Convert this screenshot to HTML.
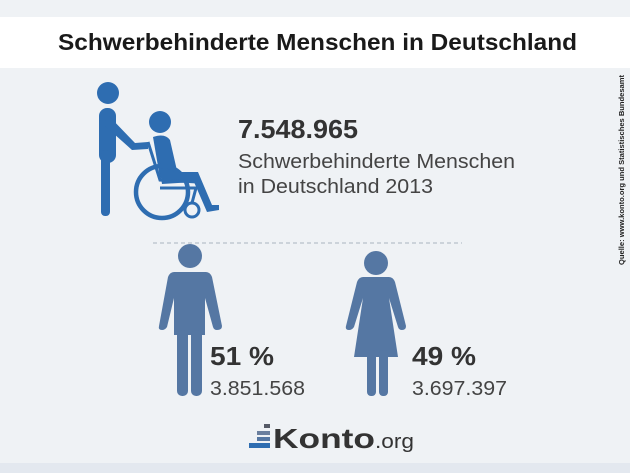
<!DOCTYPE html>
<html><head><meta charset="utf-8"><style>
html,body{margin:0;padding:0;background:#eff2f5;}
svg{display:block}
text{font-family:"Liberation Sans",sans-serif}
</style></head><body>
<svg width="630" height="473" viewBox="0 0 630 473" xmlns="http://www.w3.org/2000/svg">
<rect width="630" height="473" fill="#eff2f5"/>
<rect y="17" width="630" height="51" fill="#ffffff"/>
<rect y="463" width="630" height="10" fill="#e3e8ef"/>
<text x="58" y="50" font-size="23" font-weight="bold" fill="#1a1a1a" textLength="519" lengthAdjust="spacingAndGlyphs">Schwerbehinderte Menschen in Deutschland</text>

<text transform="translate(624,265) rotate(-90)" font-size="7.5" font-weight="bold" fill="#222" textLength="190" lengthAdjust="spacingAndGlyphs">Quelle: www.konto.org und Statistisches Bundesamt</text>

<g fill="#2e6db1" stroke="none">
<circle cx="108" cy="93" r="11"/>
<rect x="99" y="108" width="17" height="55" rx="8"/>
<rect x="101" y="150" width="9" height="66" rx="4"/>
<path d="M108 115 L135 143 L148 142 L148 149 L132 150 L104 125 Z"/>
<circle cx="160" cy="122" r="11"/>
<path d="M153 137 Q165 133 170 140 L178 175 L160 178 Z"/>
<path d="M160 172 L198 172 L212 205 L219 205 L219 210 L207 212 L194 182 L162 184 Z"/>
</g>
<g fill="none" stroke="#2e6db1">
<circle cx="162" cy="192" r="26" stroke-width="4.5"/>
<circle cx="192" cy="210" r="7" stroke-width="3"/>
<path d="M148 142 L160 180 L198 182" stroke-width="3"/>
<path d="M160 188 L196 188 L192 203" stroke-width="3"/>
</g>

<text x="238" y="138" font-size="26" font-weight="bold" fill="#333" textLength="120" lengthAdjust="spacingAndGlyphs">7.548.965</text>
<text x="238" y="168" font-size="20" fill="#444" textLength="277" lengthAdjust="spacingAndGlyphs">Schwerbehinderte Menschen</text>
<text x="238" y="193" font-size="20" fill="#444" textLength="195" lengthAdjust="spacingAndGlyphs">in Deutschland 2013</text>

<line x1="153" y1="243" x2="462" y2="243" stroke="#aab4c0" stroke-width="1" stroke-dasharray="4,3"/>

<g fill="#5577a3">
<circle cx="190" cy="256" r="12"/>
<path d="M174 272 L206 272 Q210 272 212 277 L222 326 Q222 330 217 330 Q214 330 213 327 L205 298 L205 335 L174 335 L174 298 L167 327 Q165 330 162 330 Q158 330 159 326 L168 277 Q170 272 174 272 Z"/>
<rect x="177" y="330" width="11" height="66" rx="5"/>
<rect x="191" y="330" width="11" height="66" rx="5"/>
</g>
<text x="210" y="365" font-size="26" font-weight="bold" fill="#333" textLength="64" lengthAdjust="spacingAndGlyphs">51 %</text>
<text x="210" y="395" font-size="20" fill="#444" textLength="95" lengthAdjust="spacingAndGlyphs">3.851.568</text>

<g fill="#5577a3">
<circle cx="376" cy="263" r="12"/>
<path d="M363 277 L389 277 Q393 277 395 282 L406 326 Q406 330 402 330 Q399 330 398 327 L389 298 L398 357 L354 357 L363 298 L354 327 Q352 330 349 330 Q345 330 346 326 L357 282 Q359 277 363 277 Z"/>
<rect x="367" y="350" width="9" height="46" rx="4"/>
<rect x="379" y="350" width="9" height="46" rx="4"/>
</g>
<text x="412" y="365" font-size="26" font-weight="bold" fill="#333" textLength="64" lengthAdjust="spacingAndGlyphs">49 %</text>
<text x="412" y="395" font-size="20" fill="#444" textLength="95" lengthAdjust="spacingAndGlyphs">3.697.397</text>

<rect x="264" y="424" width="6" height="4" fill="#555a66"/>
<rect x="257" y="431" width="13" height="4" fill="#6a7f9e"/>
<rect x="257" y="437" width="13" height="4" fill="#5577a3"/>
<rect x="249" y="443" width="21" height="5" fill="#2e6db1"/>
<text x="273" y="448" font-size="28" font-weight="bold" fill="#333" textLength="102" lengthAdjust="spacingAndGlyphs">Konto</text>
<text x="375" y="448" font-size="20" fill="#333" textLength="39" lengthAdjust="spacingAndGlyphs">.org</text>
</svg>
</body></html>
